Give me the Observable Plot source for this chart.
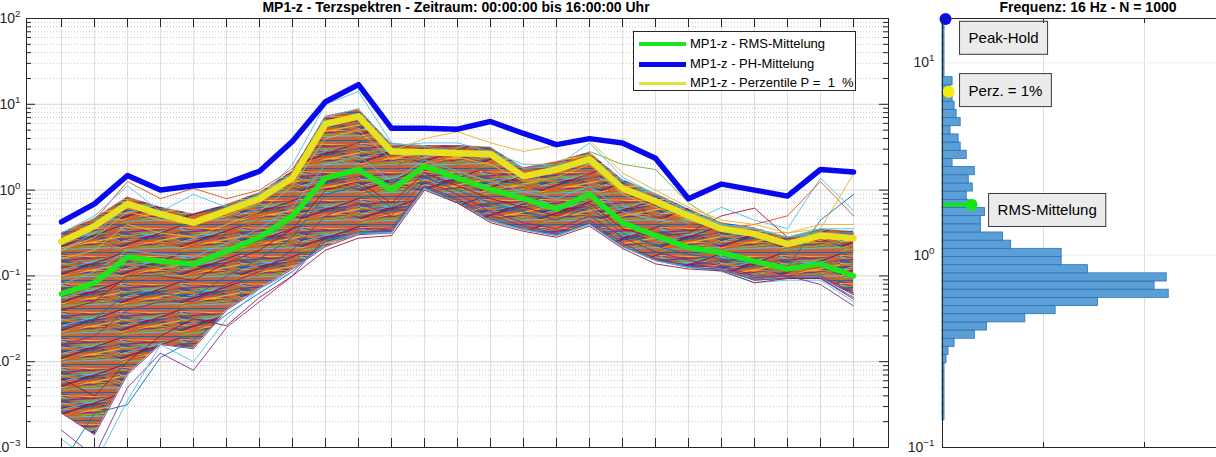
<!DOCTYPE html>
<html><head><meta charset="utf-8">
<script src="https://cdn.jsdelivr.net/npm/d3@7"></script>
<script src="https://cdn.jsdelivr.net/npm/@observablehq/plot@0.6"></script>
<style>
body{margin:0;background:#fff;width:1216px;height:457px;overflow:hidden;position:relative;font-family:"Liberation Sans",Arial,sans-serif;}
#left{position:absolute;left:0;top:0;width:900px;height:457px}
#right{position:absolute;left:900px;top:0;width:360px;height:457px}
#left svg,#right svg{max-width:none !important;display:block}
.title{position:absolute;top:0;font-weight:bold;font-size:14px;line-height:15px;white-space:nowrap;color:#000;transform:translateX(-50%)}
#legend{position:absolute;left:633px;top:31px;width:221px;height:58px;border:1px solid #262626;background:#fff;font-size:13px;color:#000}
#legend .row{position:absolute;left:0;height:18px;width:100%}
#legend .sw{position:absolute;left:5px;width:47px}
#legend .lb{position:absolute;left:56px;top:1px;white-space:nowrap;line-height:16px}
</style></head><body>
<div id="left"></div><div id="right"></div>
<div class="title" style="left:456px">MP1-z - Terzspektren - Zeitraum: 00:00:00 bis 16:00:00 Uhr</div>
<div class="title" style="left:1088px">Frequenz: 16 Hz - N = 1000</div>
<div id="legend"></div>
<script>
// ---------- data ----------
const bandFreqs = ["2","2.5","3.15","4","5","6.3","8","10","12.5","16","20","25","31.5","40","50","63","80","100","125","160","200","250","315","400","500"];
// log10 of amplitudes per band
const rmsLog  = [-1.21,-1.08,-0.78,-0.83,-0.86,-0.71,-0.55,-0.30,0.14,0.24,0.00,0.28,0.14,0.01,-0.10,-0.22,-0.05,-0.38,-0.53,-0.67,-0.73,-0.83,-0.92,-0.86,-1.00];
const phLog   = [-0.37,-0.16,0.17,0.00,0.05,0.08,0.22,0.57,1.03,1.23,0.72,0.72,0.71,0.80,0.66,0.53,0.60,0.55,0.37,-0.10,0.07,0.00,-0.07,0.24,0.21];
const percLog = [-0.60,-0.42,-0.16,-0.28,-0.38,-0.24,-0.10,0.14,0.77,0.86,0.45,0.44,0.43,0.42,0.16,0.24,0.36,0.02,-0.13,-0.30,-0.45,-0.51,-0.63,-0.53,-0.56];
// dense bundle of the 1000 single spectra: upper / lower edge
const coreHighLog = [-0.50,-0.33,-0.08,-0.20,-0.28,-0.17,-0.03,0.22,0.86,0.94,0.54,0.52,0.52,0.50,0.26,0.33,0.44,0.12,-0.04,-0.22,-0.38,-0.44,-0.55,-0.46,-0.48];
const coreLowLog  = [-2.60,-2.85,-2.15,-1.80,-1.85,-1.40,-1.15,-0.92,-0.66,-0.52,-0.50,0.02,-0.15,-0.36,-0.46,-0.53,-0.40,-0.66,-0.82,-0.90,-0.92,-1.05,-1.02,-1.02,-1.22];
// individual spectra readable outside the bundle
const singleColors = ["#4DBEEE","#D95319","#EDB120","#77AC30","#A2142F","#0072BD","#7E2F8E","#0072BD","#4DBEEE","#A2142F","#4DBEEE","#D95319","#4DBEEE","#EDB120","#7E2F8E"];
const singleLogs = [
 [-1.10,-0.95,-0.70,-0.75,-0.78,-0.62,-0.45,-0.20,0.30,0.40,0.10,0.35,0.22,0.10,-0.02,-0.10,0.05,-0.25,-0.35,-0.38,-0.20,-0.35,-0.45,0.14,-0.24],
 [-0.90,-0.80,-0.55,-0.62,-0.65,-0.50,-0.35,-0.05,0.45,0.55,0.25,0.45,0.30,0.20,0.05,0.00,0.20,-0.15,-0.30,-0.40,-0.45,-0.40,-0.30,0.10,-0.30],
 [-0.80,-0.70,-0.40,-0.50,-0.55,-0.40,-0.25,0.05,0.60,0.70,0.35,0.48,0.38,0.30,0.10,0.15,0.30,-0.05,-0.20,-0.35,-0.45,-0.48,-0.50,-0.45,0.19],
 [-1.30,-1.10,-0.85,-0.90,-0.90,-0.75,-0.60,-0.35,0.15,0.25,0.05,0.30,0.20,0.10,0.05,0.15,0.45,0.30,0.24,-0.15,-0.40,-0.55,-0.65,-0.60,-0.70],
 [-1.40,-1.30,-1.00,-1.00,-1.05,-0.85,-0.70,-0.45,0.00,0.10,-0.15,0.20,0.05,-0.10,-0.20,-0.30,-0.15,-0.45,-0.55,-0.50,-0.30,-0.21,-0.55,-0.60,-0.50],
 [-1.60,-1.50,-1.20,-1.20,-1.25,-1.00,-0.80,-0.55,-0.05,0.05,-0.20,0.15,0.00,-0.15,-0.25,-0.35,-0.20,-0.50,-0.65,-0.75,-0.80,-0.85,-0.90,-0.35,-0.05],
 [-2.80,-3.10,-2.30,-1.90,-2.10,-1.60,-1.30,-1.00,-0.55,-0.45,-0.45,0.05,-0.10,-0.30,-0.42,-0.50,-0.35,-0.62,-0.80,-0.88,-0.90,-1.02,-1.00,-1.00,-1.20],
 [-3.20,-2.60,-2.50,-1.95,-1.75,-1.45,-1.20,-0.95,-0.60,-0.50,-0.48,0.03,-0.12,-0.33,-0.45,-0.52,-0.38,-0.65,-0.82,-0.90,-0.93,-1.05,-1.03,-1.03,-1.25],
 [-2.90,-3.20,-2.45,-1.80,-2.00,-1.50,-1.15,-0.95,-0.62,-0.50,-0.50,0.02,-0.15,-0.36,-0.46,-0.53,-0.40,-0.66,-0.82,-0.90,-0.95,-1.08,-1.05,-1.05,-1.30],
 [-2.20,-2.40,-2.00,-1.70,-1.50,-1.58,-1.25,-1.00,-0.70,-0.56,-0.53,0.00,-0.15,-0.38,-0.48,-0.55,-0.42,-0.68,-0.86,-0.92,-0.94,-1.08,-1.03,-1.03,-1.27],
 [-0.70,-0.50,-0.20,-0.30,-0.35,-0.25,-0.10,0.30,1.00,1.15,0.55,0.50,0.45,0.45,0.30,0.30,0.40,0.10,-0.05,-0.25,-0.40,-0.45,-0.55,-0.50,-0.50],
 [-0.55,-0.35,0.10,-0.10,0.02,-0.10,0.00,0.25,0.80,0.90,0.50,0.50,0.48,0.45,0.20,0.30,0.40,0.05,-0.10,-0.30,-0.42,-0.48,-0.58,-0.50,-0.52],
 [-0.50,-0.30,0.05,-0.25,-0.05,-0.20,-0.05,0.20,0.85,0.95,0.52,0.55,0.55,0.45,0.25,0.28,0.55,0.15,-0.05,-0.25,-0.40,-0.45,-0.55,-0.45,-0.45],
 [-0.70,-0.55,-0.25,-0.35,-0.40,-0.30,-0.15,0.15,0.75,0.85,0.45,0.60,0.68,0.55,0.45,0.52,0.58,0.20,0.00,-0.20,-0.35,-0.40,-0.50,-0.40,-0.40],
 [-1.80,-1.70,-1.40,-1.30,-1.30,-1.10,-0.95,-0.70,-0.30,-0.15,-0.30,0.10,-0.05,-0.25,-0.38,-0.45,-0.30,-0.55,-0.72,-0.82,-0.88,-1.00,-1.00,-1.10,-1.35]
];
const yTicksLeft = [1e-3,1e-2,1e-1,1,10,100];
// histogram at 16 Hz: log10 bin edges (bottom-up) and counts
const histEdgesLog = [-0.8595,-0.817,-0.7745,-0.732,-0.6895,-0.647,-0.6045,-0.562,-0.5195,-0.477,-0.4345,-0.392,-0.3495,-0.307,-0.2645,-0.222,-0.1795,-0.137,-0.0945,-0.052,-0.0095,0.033,0.0755,0.118,0.1605,0.203,0.2455,0.288,0.3305,0.373,0.4155,0.458,0.5005,0.543,0.5855,0.628,0.6705,0.713,0.7555,0.798,0.8405,0.883,0.9255,0.968,1.0105,1.053,1.0955,1.138,1.1805,1.223];
const histCounts = [1,1,1,1,1,1,1, 2,3,6,16,22,41,56,77,112,105,111,72,59,59,34,30,19,19,21,13,12,15,13,16,5,12,9,8,4,9,7,6,5,4,5, 1,1,1,1,1,1,1];
const markerLabels = ["Peak-Hold","Perz. = 1%","RMS-Mittelung"];
const markerValues = [16.9, 7.07, 1.83];
const markerCounts = [1.5, 3, 14.4];
const yTicksRight = [0.1,1,10];
const xTicksRight = [50,100,150];

// ---------- styles ----------
const matC = {rms:"#1ee61e", ph:"#0808ee", perc:"#e8e21e"};
const axisCol = "#262626";
const font = "Liberation Sans, Arial, sans-serif";

const series = a => a.map((v,i) => ({band: bandFreqs[i], v: 10 ** v}));
const core = bandFreqs.map((b,i) => ({band:b, lo:10**coreLowLog[i], hi:10**coreHighLog[i]}));
const singles = singleLogs.flatMap((arr,k) => arr.map((v,i) => ({id:k, c:singleColors[k], band:bandFreqs[i], v:10**v})));
const minorLeft = yTicksLeft.slice(0,-1).flatMap(d => [2,3,4,5,6,7,8,9].map(m => d*m));

const innerHL = 457-18-10, innerWL = 900-26-12;
const svgL = Plot.plot({
  width:900, height:457, marginLeft:26, marginRight:12, marginTop:18, marginBottom:10,
  style:{fontFamily:font, fontSize:"14px", color:axisCol, background:"transparent", maxWidth:"none"},
  x:{type:"point", domain:bandFreqs, padding:1, axis:null},
  y:{type:"log", domain:[1e-3,1e2], axis:null},
  marks:[
    Plot.gridX(bandFreqs,{stroke:"#dedede", strokeOpacity:1}),
    Plot.gridY(minorLeft,{stroke:"#c8c8c8", strokeOpacity:1, strokeDasharray:"1,2"}),
    Plot.gridY(yTicksLeft,{stroke:"#d6d6d6", strokeOpacity:1}),
    Plot.areaY(core,{x:"band", y1:"lo", y2:"hi", fill:"url(#spag)", clip:true}),
    Plot.line(core,{x:"band", y:"lo", stroke:"#7E2F8E", strokeWidth:0.9, clip:true}),
    Plot.line(singles,{x:"band", y:"v", z:"id", stroke:"c", strokeWidth:0.9, clip:true}),
    Plot.line(series(rmsLog),{x:"band", y:"v", stroke:matC.rms, strokeWidth:5.5, strokeLinejoin:"round"}),
    Plot.line(series(phLog),{x:"band", y:"v", stroke:matC.ph, strokeWidth:5.5, strokeLinejoin:"round"}),
    Plot.line(series(percLog),{x:"band", y:"v", stroke:matC.perc, strokeWidth:6.5, strokeLinejoin:"round"}),
    Plot.frame({stroke:axisCol}),
    Plot.ruleX(bandFreqs,{stroke:axisCol, insetTop:innerHL-9}),
    Plot.ruleX(bandFreqs,{stroke:axisCol, insetBottom:innerHL-9}),
    Plot.ruleY(yTicksLeft,{stroke:axisCol, insetRight:innerWL-9}),
    Plot.ruleY(yTicksLeft,{stroke:axisCol, insetLeft:innerWL-9}),
    Plot.ruleY(minorLeft,{stroke:axisCol, insetRight:innerWL-5}),
    Plot.ruleY(minorLeft,{stroke:axisCol, insetLeft:innerWL-5}),
    Plot.axisY(yTicksLeft,{anchor:"left", tickSize:0, tickPadding:6, label:null, fontSize:14, fill:axisCol,
      tickFormat:d => "10^" + Math.round(Math.log10(d))})
  ]
});
document.getElementById("left").appendChild(svgL);

// multicolour texture standing in for the dense bundle of single spectra
(function(){
  const pal = ["#0072BD","#D95319","#EDB120","#7E2F8E","#77AC30","#4DBEEE","#A2142F"];
  const W = 60, H = 28;
  const pat = d3.select(svgL).insert("defs",":first-child").append("pattern")
    .attr("id","spag").attr("patternUnits","userSpaceOnUse").attr("width",W).attr("height",H);
  pat.append("rect").attr("width",W).attr("height",H).attr("fill","#c8603e");
  for (let i = 0; i < 28; i++) {
    const y0 = i + 0.5, y1 = ((i * 11) % H) + 0.5;
    pat.append("line").attr("x1",-2).attr("y1",y0).attr("x2",W+2).attr("y2",y1)
      .attr("stroke",pal[(i*3)%7]).attr("stroke-width",1.1);
  }
})();

const innerHR = 457-18-10, innerWR = 360-42-15;
const markers = markerLabels.map((l,i) => ({label:l, value:markerValues[i], count:markerCounts[i]}));
const markerColors = ["#0a0af5","#f2f000","#14e614"];
const hist = histCounts.map((c,i) => ({lo:10**histEdgesLog[i], hi:10**histEdgesLog[i+1], count:c})).filter(d => d.count > 0);
const labelOffsets = [[23,19.5],[20,-1],[26,6]];
const svgR = Plot.plot({
  width:360, height:457, marginLeft:42, marginRight:15, marginTop:18, marginBottom:10,
  style:{fontFamily:font, fontSize:"14px", color:axisCol, background:"transparent", maxWidth:"none"},
  x:{domain:[0,150], axis:null},
  y:{type:"log", domain:[0.1,17], axis:null},
  marks:[
    Plot.gridX(xTicksRight,{stroke:"#dedede", strokeOpacity:1}),
    Plot.gridY(yTicksRight,{stroke:"#ececec", strokeOpacity:1}),
    Plot.rect(hist,{x1:0, x2:"count", y1:"lo", y2:"hi", fill:"#5c9fd6", stroke:"#2a73b8", strokeWidth:0.8}),
    ...markers.map((m,i) => Plot.ruleY([m],{y:"value", x1:0, x2:"count", stroke:markerColors[i], strokeWidth:4})),
    ...markers.map((m,i) => Plot.dot([m],{x:"count", y:"value", fill:markerColors[i], r:6})),
    ...markers.map((m,i) => Plot.text([m],{x:"count", y:"value", text:"label", dx:labelOffsets[i][0], dy:labelOffsets[i][1],
        textAnchor:"start", fontSize:15, fill:"#000", className:"boxlabel"})),
    Plot.frame({stroke:axisCol}),
    Plot.ruleX(xTicksRight,{stroke:axisCol, insetTop:innerHR-5}),
    Plot.ruleX(xTicksRight,{stroke:axisCol, insetBottom:innerHR-5}),
    Plot.axisY(yTicksRight,{anchor:"left", tickSize:0, tickPadding:8, label:null, fontSize:14, fill:axisCol,
      tickFormat:d => "10^" + Math.round(Math.log10(d))})
  ]
});
document.getElementById("right").appendChild(svgR);
[svgL, svgR].forEach(s => { s.style.maxWidth = "none"; s.style.height = "457px"; });

// superscript exponents on log tick labels
[svgL, svgR].forEach(svg => {
  d3.select(svg).selectAll("text").each(function(){
    const t = this.textContent;
    const m = /^10\^(-?\d+)$/.exec(t);
    if (!m) return;
    const sel = d3.select(this);
    sel.text("10");
    sel.append("tspan").attr("dy","-0.6em").attr("font-size","0.7em").text(m[1].replace("-","\u2212"));
  });
});

// grey boxes behind the marker labels
d3.select(svgR).selectAll(".boxlabel text").each(function(){
  const b = this.getBBox();
  d3.select(this.parentNode).insert("rect", () => this)
    .attr("x", b.x - 9).attr("y", b.y - 8).attr("width", b.width + 18).attr("height", b.height + 16)
    .attr("transform", this.getAttribute("transform"))
    .attr("fill","#ebebeb").attr("stroke","#3a3a3a").attr("stroke-width",1);
});

// legend
const legendItems = [
  {label:"MP1-z - RMS-Mittelung", color:matC.rms, w:4.5},
  {label:"MP1-z - PH-Mittelung", color:matC.ph, w:5},
  {label:"MP1-z - Perzentile P =  1  %", color:"#e4e03c", w:3}
];
const leg = d3.select("#legend");
const rowTops = [3,23,42];
legendItems.forEach((d,i) => {
  const r = leg.append("div").attr("class","row").style("top", rowTops[i]+"px");
  r.append("div").attr("class","sw").style("top",(9 - d.w/2)+"px").style("height",d.w+"px").style("background",d.color);
  r.append("div").attr("class","lb").text(d.label.replace(/ /g,"\u00a0"));
});
</script>
</body></html>
